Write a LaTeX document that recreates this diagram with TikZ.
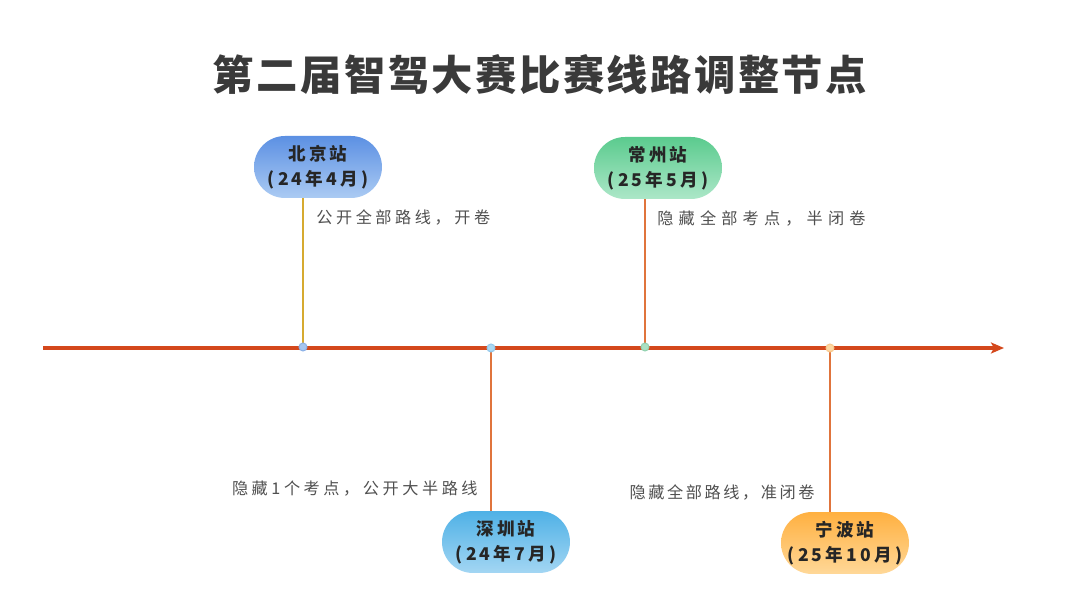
\documentclass[tikz,border=0pt]{standalone}
\usepackage{fontspec}
\setmainfont{Noto Sans CJK SC}
\usepackage{tikz}
\usetikzlibrary{calc,arrows.meta}
\definecolor{axisred}{HTML}{D4481C}
\definecolor{stemgold}{HTML}{D6AA30}
\definecolor{stemorange}{HTML}{E0743C}
\definecolor{titlegray}{HTML}{3A3A3A}
\definecolor{notegray}{HTML}{505050}
\def\titlefont{\fontsize{23.5}{26}\selectfont\bfseries\addfontfeature{LetterSpace=6}}
\def\stationfont{\fontsize{10}{14}\selectfont\bfseries\addfontfeature{LetterSpace=18}}
\def\notefont{\fontsize{9.2}{11}\selectfont\addfontfeature{LetterSpace=22}}
\tikzset{
  station/.style={rounded corners=0.62cm, minimum width=2.56cm, minimum height=1.24cm,
    inner sep=0pt, align=center, font=\stationfont, text=black!85},
  note/.style={font=\notefont, text=notegray, inner sep=0pt},
  stem/.style={line width=0.035cm},
  axisdot/.style={circle, inner sep=0pt, minimum size=0.16cm, line width=0.02cm}
}

\begin{document}
\begin{tikzpicture}[x=0.02cm, y=-0.02cm]
			%%%%% START %%%%%
			
			\fill[white] (0, 0) rectangle (1080, 607);
			\useasboundingbox (0, 0) rectangle (1080, 607);
			
			\node[font=\titlefont, text=titlegray] (title) at (540, 75) {第二届智驾大赛比赛线路调整节点};
			
			\coordinate (axisstart) at (43, 348);
			\coordinate (axisend) at (1004, 348);
			\coordinate (bjdot) at (303, 347);
			\coordinate (szdot) at (491, 348);
			\coordinate (czdot) at (645, 347);
			\coordinate (nbdot) at (830, 348);
			
			\node[station, top color={rgb,255:red,92;green,144;blue,227}, bottom color={rgb,255:red,171;green,203;blue,243}] (bj) at (318, 167) {北京站\\(24年4月)};
			\node[station, top color={rgb,255:red,91;green,203;blue,142}, bottom color={rgb,255:red,172;green,231;blue,200}] (cz) at (658, 168) {常州站\\(25年5月)};
			\node[station, top color={rgb,255:red,79;green,177;blue,230}, bottom color={rgb,255:red,163;green,214;blue,243}] (sz) at (506, 542) {深圳站\\(24年7月)};
			\node[station, top color={rgb,255:red,255;green,176;blue,64}, bottom color={rgb,255:red,255;green,216;blue,152}] (nb) at (845, 543) {宁波站\\(25年10月)};
			
			\draw[stem, stemgold] (bj.south -| bjdot) -- (bjdot);
			\draw[stem, stemorange] (cz.south -| czdot) -- (czdot);
			\draw[stem, stemorange] (szdot) -- (sz.north -| szdot);
			\draw[stem, stemorange] (nbdot) -- (nb.north -| nbdot);
			
			\draw[line width=0.065cm, axisred, -{Stealth[length=0.26cm, width=0.22cm, inset=0.06cm]}] (axisstart) -- (axisend);
			
			\node[axisdot, fill={rgb,255:red,166;green,198;blue,240}, draw={rgb,255:red,140;green,178;blue,232}] at (bjdot) {};
			\node[axisdot, fill={rgb,255:red,170;green,216;blue,242}, draw={rgb,255:red,146;green,200;blue,236}] at (szdot) {};
			\node[axisdot, fill={rgb,255:red,170;green,224;blue,194}, draw={rgb,255:red,146;green,210;blue,176}] at (czdot) {};
			\node[axisdot, fill={rgb,255:red,253;green,216;blue,162}, draw={rgb,255:red,248;green,200;blue,140}] at (nbdot) {};
			
			\node[note, anchor=west] (bjnote) at (316, 217) {公开全部路线，开卷};
			\node[note, anchor=west, font=\notefont\addfontfeature{LetterSpace=32}] (cznote) at (657, 218) {隐藏全部考点，半闭卷};
			\node[note, anchor=east] (sznote) at (478, 489) {隐藏1个考点，公开大半路线};
			\node[note, anchor=east, font=\notefont\addfontfeature{LetterSpace=16}] (nbnote) at (815, 492) {隐藏全部路线，准闭卷};
			
			%%%%% END %%%%%
\end{tikzpicture}
\end{document}
